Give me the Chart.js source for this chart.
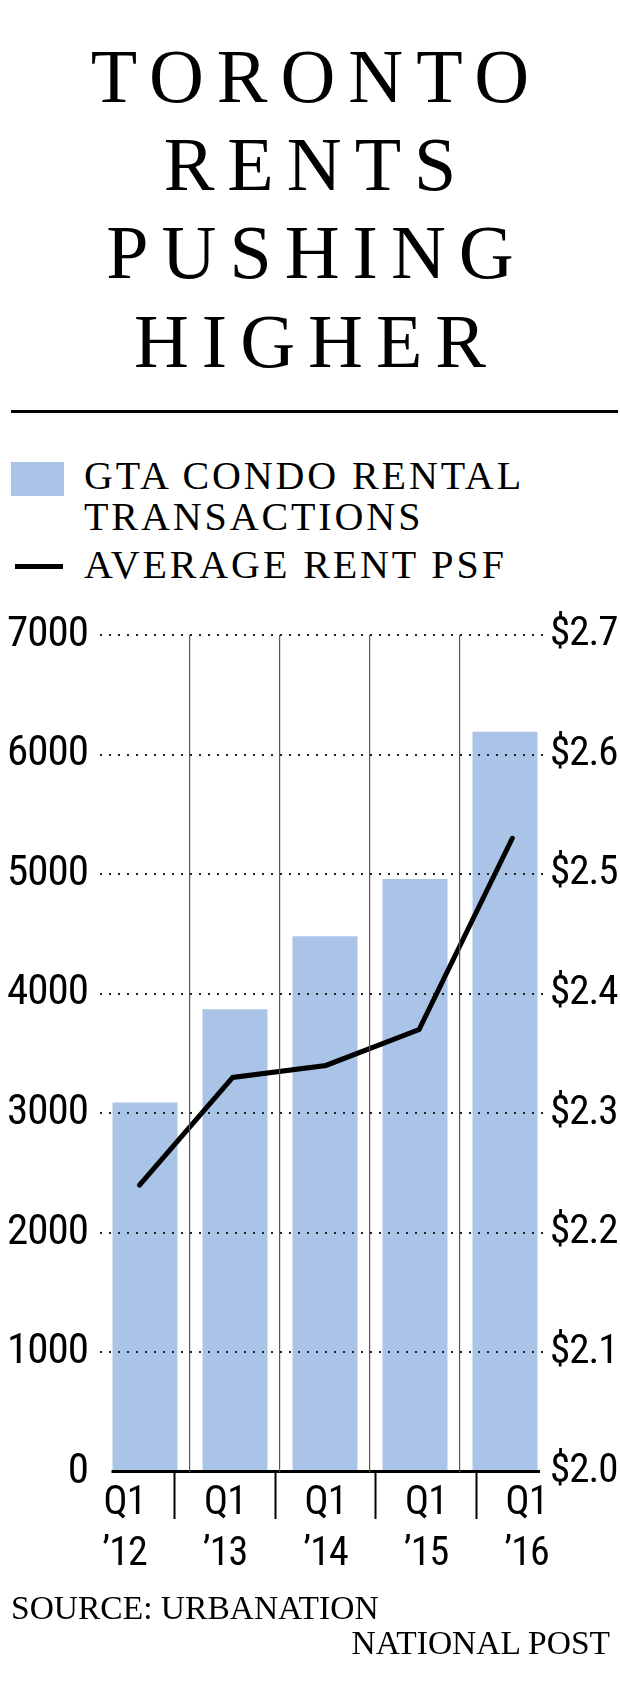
<!DOCTYPE html>
<html>
<head>
<meta charset="utf-8">
<script src="https://cdn.jsdelivr.net/npm/chart.js@4"></script>
<style>
  html, body { margin: 0; padding: 0; background: #fff; }
  body { width: 620px; height: 1708px; position: relative; overflow: hidden; font-family: "Liberation Serif", "DejaVu Serif", serif; color: #000; }
  .title { position: absolute; left: 0; top: 31.9px; width: 620px; box-sizing: border-box; padding-left: 13px; text-align: center; font-size: 76px; line-height: 88.3px; letter-spacing: 13px; white-space: nowrap; }
  .rule { position: absolute; left: 11px; top: 410px; width: 607px; height: 3px; background: #000; }
  .leg-rect { position: absolute; left: 11px; top: 462px; width: 53px; height: 34px; background: #a9c4e7; }
  .leg-line { position: absolute; left: 15px; top: 564px; width: 48px; height: 5px; background: #000; }
  .leg-text { position: absolute; left: 84px; font-size: 40px; line-height: 40.7px; letter-spacing: 2.9px; white-space: nowrap; }
  .foot { position: absolute; font-size: 33.5px; line-height: 33px; white-space: nowrap; }
  #wrap { position: absolute; left: 0; top: 590px; width: 620px; height: 1000px; }
</style>
</head>
<body>
<div class="title">TORONTO<br>RENTS<br>PUSHING<br>HIGHER</div>
<div class="rule"></div>
<div class="leg-rect"></div>
<div class="leg-text" style="top:456.2px">GTA CONDO RENTAL<br>TRANSACTIONS</div>
<div class="leg-line"></div>
<div class="leg-text" style="top:544.5px">AVERAGE RENT PSF</div>
<div id="wrap"><canvas id="c" width="620" height="1000"></canvas></div>
<div class="foot" style="left:11px; top:1591px">SOURCE: URBANATION</div>
<div class="foot" style="right:10px; top:1626.4px">NATIONAL POST</div>

<script>
// ---- Data ----
const categories = ["Q1 '12", "Q1 '13", "Q1 '14", "Q1 '15", "Q1 '16"];
const xTickLabels = [["Q1", "\u201912"], ["Q1", "\u201913"], ["Q1", "\u201914"], ["Q1", "\u201915"], ["Q1", "\u201916"]];
const transactions = [3090, 3870, 4480, 4960, 6190];
const rentPsf = [2.24, 2.33, 2.34, 2.37, 2.53];
const leftTicks = [0, 1000, 2000, 3000, 4000, 5000, 6000, 7000];
const rightTicks = [2.0, 2.1, 2.2, 2.3, 2.4, 2.5, 2.6, 2.7];

const SANS = '"Roboto Condensed", "DejaVu Sans Condensed", Roboto, sans-serif';
const BAR_COLOR = '#a9c4e7';

const tightTextPlugin = {
  id: 'tightText',
  beforeDraw(chart) {
    if ('letterSpacing' in chart.ctx) chart.ctx.letterSpacing = '-1px';
  }
};

const baselinePlugin = {
  id: 'baseline',
  afterDatasetsDraw(chart) {
    const meta = chart.getDatasetMeta(0);
    const first = meta.data[0], last = meta.data[meta.data.length - 1];
    const y = chart.scales.y.getPixelForValue(0);
    const ctx = chart.ctx;
    ctx.save();
    ctx.strokeStyle = '#000';
    ctx.lineWidth = 3;
    ctx.beginPath();
    ctx.moveTo(first.x - first.width / 2 - 1, y - 0.5);
    ctx.lineTo(last.x + last.width / 2 + 2.5, y - 0.5);
    ctx.stroke();
    ctx.restore();
  }
};

new Chart(document.getElementById('c'), {
  type: 'bar',
  data: {
    labels: categories,
    datasets: [
      {
        type: 'bar',
        label: 'GTA CONDO RENTAL TRANSACTIONS',
        data: transactions,
        backgroundColor: BAR_COLOR,
        borderWidth: 0,
        barPercentage: 0.722,
        categoryPercentage: 1,
        grouped: false,
        xAxisID: 'x',
        yAxisID: 'y',
        order: 2
      },
      {
        type: 'line',
        label: 'AVERAGE RENT PSF',
        data: rentPsf.map((v, i) => ({ x: i, y: v })),
        borderColor: '#000',
        borderWidth: 5,
        pointRadius: 0,
        pointHoverRadius: 0,
        tension: 0,
        fill: false,
        borderCapStyle: 'round',
        borderJoinStyle: 'miter',
        xAxisID: 'xline',
        yAxisID: 'y2',
        order: 1
      }
    ]
  },
  options: {
    responsive: false,
    animation: false,
    devicePixelRatio: 1,
    layout: { padding: { top: 45, left: 0, right: 0, bottom: 0 } },
    plugins: { legend: { display: false }, tooltip: { enabled: false }, title: { display: false } },
    scales: {
      x: {
        type: 'category',
        position: 'bottom',
        offset: true,
        grid: {
          offset: true,
          drawTicks: false,
          drawOnChartArea: true,
          lineWidth: 1.2,
          color: (ctx) => (ctx.index > 0 && ctx.index < categories.length) ? '#555' : 'transparent',
          z: 1
        },
        border: { display: false },
        ticks: { display: false }
      },
      xl: {
        type: 'linear',
        position: 'bottom',
        offset: false,
        min: -0.2438,
        max: 4.2338,
        afterBuildTicks: (axis) => {
          const t = [];
          for (let i = 0; i < xTickLabels.length; i++) {
            t.push({ value: i });
            if (i < xTickLabels.length - 1) t.push({ value: i + 0.5 });
          }
          axis.ticks = t;
        },
        afterFit: (axis) => { axis.height = 118; },
        grid: {
          offset: false,
          drawOnChartArea: false,
          drawTicks: true,
          tickLength: 47,
          tickWidth: 2,
          color: 'transparent',
          tickColor: (ctx) => (ctx.tick && ctx.tick.value % 1 !== 0) ? '#000' : 'transparent'
        },
        border: { display: false },
        ticks: {
          autoSkip: false,
          maxRotation: 0,
          minRotation: 0,
          padding: -41,
          color: '#000',
          font: { family: SANS, size: 40, lineHeight: 1.275 },
          callback: (value) => Number.isInteger(value) ? xTickLabels[value] : ''
        }
      },
      xline: {
        type: 'linear',
        display: false,
        offset: false,
        grid: { offset: false },
        min: -0.4238,
        max: 4.4045
      },
      y: {
        position: 'left',
        min: leftTicks[0],
        max: leftTicks[leftTicks.length - 1],
        afterBuildTicks: (axis) => { axis.ticks = leftTicks.map(v => ({ value: v })); },
        afterFit: (axis) => { axis.width = 100; },
        grid: {
          drawTicks: false,
          lineWidth: 2,
          color: (ctx) => (ctx.tick && ctx.tick.value === 0) ? 'transparent' : '#222',
          z: 1
        },
        border: { display: false, dash: [2, 7] },
        ticks: {
          padding: 12,
          color: '#000',
          font: { family: SANS, size: 43 },
          callback: (v) => String(v)
        }
      },
      y2: {
        position: 'right',
        min: rightTicks[0],
        max: rightTicks[rightTicks.length - 1],
        afterBuildTicks: (axis) => { axis.ticks = rightTicks.map(v => ({ value: v })); },
        afterFit: (axis) => { axis.width = 70; },
        grid: { drawOnChartArea: false, drawTicks: false },
        border: { display: false },
        ticks: {
          padding: 0,
          color: '#000',
          font: { family: SANS, size: 41 },
          callback: (v) => '$' + Number(v).toFixed(1)
        }
      }
    }
  },
  plugins: [tightTextPlugin, baselinePlugin]
});
</script>
</body>
</html>
